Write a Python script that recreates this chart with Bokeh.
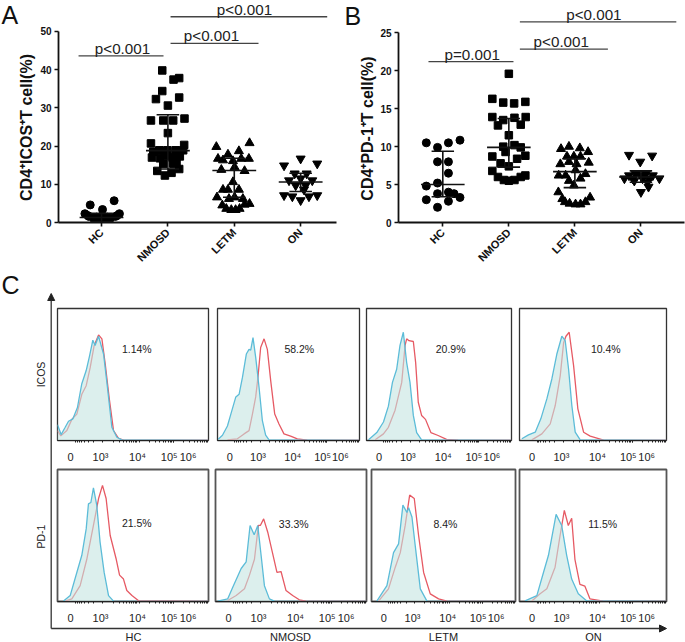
from math import pi
import numpy as np
from bokeh.embed import file_html
from bokeh.resources import INLINE
from bokeh.plotting import figure
from bokeh.models import Range1d, FixedTicker, Arrow, NormalHead
from bokeh.core.properties import value

FONT = "Liberation Sans"
groups = ["HC", "NMOSD", "LETM", "ON"]

# Panel A: per-group jitter (category units) and values (%)
a_hc_off = [-.17,.19,.015,-.25,.27,-.19,.21,-.115,.135,-.04,.045,0,-.075,.085,-.205,.235,0]
a_hc_val = [4.6,5.7,3.4,2.3,2.3,1.6,1.6,1.1,1.1,.8,.8,.5,1.4,1.4,1.8,1.8,1.6]
a_nm_off = [-.085,.085,.17,-.085,-.18,.17,0,-.255,-.07,.08,.25,0,-.255,.245,-.13,-.01,.115,.23,-.24,-.12,.07,.18,-.16,-.045,.055,.17,-.07,-.045,.08,.13,-.22,.12]
a_nm_val = [39.8,37.4,37.8,34.4,32.3,32.7,30.6,26.7,26.7,26.7,27.2,23.4,20.7,20.3,18.9,18.9,18.9,18.9,17,16.8,17,17.3,13.5,12.3,13,14,15.4,17.5,15.4,15.8,18.5,18.5]
a_le_off = [-.27,.23,.07,-.095,-.245,-.17,-.02,.105,.22,-.195,.005,.155,-.02,-.17,-.095,.07,-.26,.13,-.08,.005,-.18,.23,.155,-.12,-.045,.02,.08]
a_le_val = [19.8,20.8,18.7,17.8,16.7,16.3,16.1,16.7,16.7,13.8,14.5,13.5,10.6,8.6,8.6,8.6,6.6,6.2,6.2,6.6,4.5,4.9,4.7,3.6,3.3,3.3,3.6]
a_on_off = [-.25,0,.25,-.09,.09,-.175,0,.175,-.075,.075,.05,-.25,-.125,0,.125,.25]
a_on_val = [14.9,16.7,15.4,12.8,12.8,11,11.5,11,9.7,9.7,8.6,7.1,6.8,5.8,6.8,7.1]
a_mid = [1.3,18.8,13.6,10.6]
a_hi = [2.4,28.2,16.8,12.9]
a_lo = [.2,14,6.6,8.1]

# Panel B
b_hc_off = [-.25,.26,.085,-.08,-.08,.085,.085,-.25,-.08,-.08,-.25,.085,.17,.085,.26,-.08]
b_hc_val = [10.5,10.85,10.5,9.9,8,8,6.5,4.8,5.2,3.8,3,2.8,3.8,4,3.3,2]
b_nm_off = [0,-.25,-.085,.08,.25,-.25,-.085,.085,.255,-.165,.18,0,-.085,.085,-.25,.25,-.05,.125,-.125,0,-.25,.25,-.165,-.075,0,.085,.18,.18]
b_nm_val = [19.6,16.3,15.8,15.7,15.9,13.9,13.5,13.8,13.9,12.8,12.9,11.5,10,10.2,8.7,8.8,9.3,8.4,7.8,7.4,6.8,6.2,6,5.6,5.5,5.6,6,9.9]
b_le_off = [-.21,-.09,.075,.2,-.12,-.015,.085,-.22,-.09,.025,.21,-.245,-.14,.01,.16,-.09,.085,-.015,-.25,.23,-.19,-.15,-.08,.01,.085,.16]
b_le_val = [9.7,10,9.8,9.3,8.7,8.7,8.7,7.7,8,7.7,7.9,6.2,6.2,6.9,6.4,5.5,5.8,4.9,4,3.3,3.1,2.7,2.5,2.4,2.4,2.7]
b_on_off = [-.18,-.01,.17,-.08,.075,-.18,0,.18,-.25,-.125,.025,.125,.28,-.1,.1,0,.115]
b_on_val = [8.9,8,8.8,6.4,6.4,6.2,6.2,6.2,5.8,5.8,5.8,5.8,5.8,5.5,5.3,4,4.7]
b_mid = [5,9.9,6.7,6]
b_hi = [9.4,13.7,8.4,6.8]
b_lo = [3.4,7.3,4.6,5.3]

# Significance bars: x0, x1, y, text x, label
a_sig = [(.654,1.934,43.6,1.316,"p<0.001"),(2.04,3.365,46.9,2.657,"p<0.001"),(2.04,4.4,53.85,3.154,"p<0.001")]
b_sig = [(.783,2.07,21.2,1.445,"p=0.001"),(2.167,3.5,22.84,2.794,"p<0.001"),(2.167,4.536,26.45,3.288,"p<0.001")]

# Flow histograms: channel (per mille of the axis) and height (% of the frame), red then blue
h11_bx=[0,24,51,73,102,132,161,190,212,234,249,272,305,331,360,393,426,1000]
h11_by=[12,4.5,10,14.6,16.4,25,43,53,64,76,72,79,65.5,40,10,2.5,.5,0]
h11_rx=[0,22,62,95,128,161,190,216,243,272,294,316,342,371,404,437,1000]
h11_ry=[7.5,3.5,7.5,16,20,35,41.5,55,72,80,77,58,32.5,7.5,1.7,.3,0]
h12_bx=[5,35,70,94,129,152,176,203,222,234,250,269,293,316,339,363,1000]
h12_by=[1,4,11,20,33,35,48,65.5,69,68.5,78,63,40,15,4,.5,0]
h12_rx=[70,140,187,222,246,269,285,304,328,351,375,403,433,468,515,562,632,1000]
h12_ry=[.5,1.3,5,7.5,20,33,48,70.5,77,69,45,20,12.5,5,3.3,1.3,.3,0]
h13_bx=[14,71,117,151,179,208,231,254,277,300,323,346,380,1000]
h13_by=[.5,6,14,26,44,54,72,82,59,44,19,6,.5,0]
h13_rx=[60,117,151,197,243,266,277,293,323,339,357,380,407,444,494,552,632,1000]
h13_ry=[.5,5,10,23,44,72,77,75.6,75,59,29,19,16,6,3.8,.8,.2,0]
h14_bx=[16,61,107,145,186,220,254,288,311,334,356,379,413,1000]
h14_by=[1.3,4.3,6.3,16.4,31.5,46.6,65.5,79,75.6,54,26.5,6.3,.5,0]
h14_rx=[84,152,209,243,277,300,316,338,368,397,436,481,572,1000]
h14_ry=[.5,5,12.6,26.5,49,74,79,82,56.7,24,6.3,3.3,.3,0]
h21_bx=[40,84,128,161,190,205,221,238,260,282,309,338,371,1000]
h21_by=[.3,4.5,22,35,55,74,75,86,73,45,22,4.5,.3,0]
h21_rx=[51,95,150,194,238,272,298,322,349,389,411,437,459,493,537,1000]
h21_ry=[.3,2,12,32,57.6,78,88,78,50,32,20,17,8.3,4.5,.5,0]
h22_bx=[15,81,115,170,203,229,256,280,302,324,357,390,1000]
h22_by=[.3,2,11,25,30,57.6,50.5,57.6,35,12,2,.3,0]
h22_rx=[81,137,192,225,258,284,297,319,346,379,407,434,467,511,555,599,1000]
h22_ry=[.8,4.5,9.6,20,32,57.6,57.6,62.6,52.5,36,22,22.7,8.3,4.5,1.3,.3,0]
h23_bx=[37,107,153,188,218,246,258,281,304,339,385,1000]
h23_by=[.3,12,37,43.7,73,67.5,71,64,42,9.6,.3,0]
h23_rx=[49,118,165,200,234,265,297,327,362,408,466,524,1000]
h23_ry=[.3,9.6,26,37,57.6,80.6,78,50,22,5.8,2,.3,0]
h24_bx=[38,118,163,197,249,287,321,355,400,456,1000]
h24_by=[.5,4.5,22,35,66,57.6,35,17,5.8,.5,0]
h24_rx=[84,140,186,242,276,305,332,355,377,411,445,479,570,1000]
h24_ry=[.3,5.8,9.6,26,50,69,57.6,63,32,13,11.6,2,.3,0]

pct_labels = ["1.14%","58.2%","20.9%","10.4%","21.5%","33.3%","8.4%","11.5%"]
pct_x = [525,576,580,587,525,518,513,566]
pct_y = [69,69,69,69,59.6,59,59,59]
row_labels = ["ICOS","PD-1"]
flow_ticks = [86,285,530,740,865]
flow_tick_labels = ["0","10³","10⁴","10⁵","10⁶"]


def place(x, y):
    return {"position": "absolute", "left": f"{x}px", "top": f"{y}px"}


def make_scatter(left, width, height, ml, mr, xr, y_end, y_top, ticks, series, mid, hi, lo, sig):
    p = figure(width=width, height=height, toolbar_location=None, output_backend="svg",
               x_range=Range1d(*xr), y_range=Range1d(0, y_end),
               min_border_left=ml, min_border_right=mr, min_border_top=0, min_border_bottom=48,
               background_fill_color=None, border_fill_color=None, outline_line_color=None,
               styles=place(left, 0))
    p.grid.visible = False
    for ax in (p.xaxis[0], p.yaxis[0]):
        ax.axis_line_width = 1.8
        ax.axis_line_color = "#111111"
        ax.major_tick_line_width = 1.6
        ax.major_tick_line_color = "#111111"
        ax.major_tick_in = 0
        ax.major_tick_out = 4
        ax.minor_tick_line_color = None
        ax.major_label_text_font = FONT
        ax.major_label_text_font_style = "bold"
        ax.major_label_text_font_size = "10px"
        ax.major_label_text_color = "#111111"
    p.yaxis[0].ticker = FixedTicker(ticks=ticks)
    p.yaxis[0].bounds = (0, y_top)
    p.yaxis[0].major_label_standoff = 3
    p.xaxis[0].ticker = FixedTicker(ticks=[1, 2, 3, 4])
    p.xaxis[0].major_label_overrides = {i + 1: g for i, g in enumerate(groups)}
    p.xaxis[0].major_label_orientation = pi / 4
    p.xaxis[0].major_label_standoff = 4
    p.xaxis[0].major_label_text_font_size = "11px"
    for i, (off, val, marker, size) in enumerate(series):
        p.scatter([i + 1 + o for o in off], val, marker=marker, size=size, color="#000000")
    xs = [i + 1 for i in range(4)]
    p.segment(xs, lo, xs, hi, line_color="#111111", line_width=1.6)
    for ys, hw in ((mid, .33), (hi, .17), (lo, .17)):
        p.segment([x - hw for x in xs], ys, [x + hw for x in xs], ys, line_color="#111111", line_width=1.6)
    for x0, x1, y, tx, label in sig:
        p.segment([x0], [y], [x1], [y], line_color="#444444", line_width=1.3)
        p.text([tx], [y], text=[label], text_font=value(FONT), text_font_size="15.2px",
               text_align="center", text_baseline="middle", y_offset=-7.5, text_color="#222222")
    return p


fig_a = make_scatter(0, 342, 270, 58, 6, (.352, 4.54), 58.1, 50, [0,10,20,30,40,50],
                     [(a_hc_off,a_hc_val,"circle",8),(a_nm_off,a_nm_val,"square",7.5),
                      (a_le_off,a_le_val,"triangle",9),(a_on_off,a_on_val,"inverted_triangle",9)],
                     a_mid, a_hi, a_lo, a_sig)
fig_b = make_scatter(342, 343, 270, 56, 1, (.329, 4.66), 29.26, 25, [0,5,10,15,20,25],
                     [(b_hc_off,b_hc_val,"circle",8),(b_nm_off,b_nm_val,"square",7.5),
                      (b_le_off,b_le_val,"triangle",9),(b_on_off,b_on_val,"inverted_triangle",9)],
                     b_mid, b_hi, b_lo, b_sig)

decades = [300, 543, 770]
minor = [d + 225 * np.log10(k) for d in decades for k in range(1, 11)]
minor += [300 - 200 * np.log10(k) for k in range(2, 9)]


def make_flow(l, t, r, b, rx, ry, bx, by, label, lx, ly, border_w, border_c):
    pad = 3
    p = figure(width=int(r - l + 2 * pad), height=int(b - t + pad + 26), toolbar_location=None,
               output_backend="svg", x_range=Range1d(0, 1000), y_range=Range1d(0, 100),
               y_axis_type=None,
               min_border_left=pad, min_border_right=pad, min_border_top=pad, min_border_bottom=26,
               background_fill_color=None, border_fill_color=None,
               outline_line_color=border_c, outline_line_width=border_w,
               styles=place(l - pad, t - pad))
    p.grid.visible = False
    ax = p.xaxis[0]
    ax.ticker = FixedTicker(ticks=flow_ticks, minor_ticks=[m for m in minor if 0 <= m <= 1000])
    ax.major_label_overrides = {t_: s for t_, s in zip(flow_ticks, flow_tick_labels)}
    ax.major_tick_line_color = None
    ax.major_tick_in = 0
    ax.major_tick_out = 0
    ax.minor_tick_in = 0
    ax.minor_tick_out = 2
    ax.minor_tick_line_color = "#222222"
    ax.axis_line_color = "#222222"
    ax.axis_line_width = 1.2
    ax.major_label_standoff = 8
    ax.major_label_text_font = FONT
    ax.major_label_text_font_size = "11px"
    ax.major_label_text_color = "#222222"
    p.line(rx, ry, line_color="#e65a64", line_width=1.3)
    p.varea(bx, [0] * len(bx), by, fill_color="#c4e4e1", fill_alpha=0.6)
    p.line(bx, by, line_color="#5cbcd8", line_width=1.3)
    p.text([lx], [ly], text=[label], text_font=value(FONT), text_font_size="10.5px",
           text_align="center", text_baseline="middle", text_color="#222222")
    return p


top_boxes = [(57,208.5),(216.5,359),(366,511.5),(519,666.5)]
bot_boxes = [(57,208.5),(214.5,365.5),(371,515),(519,666.5)]
top_series = [(h11_rx,h11_ry,h11_bx,h11_by),(h12_rx,h12_ry,h12_bx,h12_by),(h13_rx,h13_ry,h13_bx,h13_by),(h14_rx,h14_ry,h14_bx,h14_by)]
bot_series = [(h21_rx,h21_ry,h21_bx,h21_by),(h22_rx,h22_ry,h22_bx,h22_by),(h23_rx,h23_ry,h23_bx,h23_by),(h24_rx,h24_ry,h24_bx,h24_by)]
flows = []
for i in range(4):
    flows.append(make_flow(top_boxes[i][0], 308, top_boxes[i][1], 440, *top_series[i],
                           pct_labels[i], pct_x[i], pct_y[i], 1.3, "#333333"))
for i in range(4):
    flows.append(make_flow(bot_boxes[i][0], 469, bot_boxes[i][1], 601, *bot_series[i],
                           pct_labels[i + 4], pct_x[i + 4], pct_y[i + 4], 1.8, "#555555"))

# Page-level annotation layer, in page pixels
bg = figure(width=685, height=642, toolbar_location=None, output_backend="svg",
            x_range=Range1d(0, 685), y_range=Range1d(642, 0),
            x_axis_type=None, y_axis_type=None,
            min_border=0, background_fill_color=None, border_fill_color=None,
            outline_line_color=None, styles=place(0, 0))
bg.grid.visible = False


def txt(x, y, s, size, angle=0, style="normal", align="center", base="middle", color="#222222"):
    bg.text([x], [y], text=[s], text_font=value(FONT), text_font_size=size, angle=angle,
            text_font_style=style, text_align=align, text_baseline=base, text_color=color)


txt(1, 14.5, "A", "25px", align="left", color="#111111")
txt(344, 15, "B", "25px", align="left", color="#111111")
txt(1, 284, "C", "25px", align="left", color="#111111")
txt(25.5, 127, "CD4⁺ICOS⁺T cell(%)", "16px", angle=pi/2, style="bold", color="#111111")
txt(367, 128, "CD4⁺PD-1⁺T cell(%)", "16px", angle=pi/2, style="bold", color="#111111")
txt(40, 374, row_labels[0], "10.5px", angle=pi/2)
txt(40, 536, row_labels[1], "10.5px", angle=pi/2)
for x, g in zip([133, 290, 443, 593], groups):
    txt(x, 636, g, "11px")
bg.add_layout(Arrow(end=NormalHead(size=7, fill_color="#222222", line_color="#222222"),
                    x_start=50.7, y_start=628, x_end=50.7, y_end=293, line_color="#333333", line_width=1.3))
bg.add_layout(Arrow(end=NormalHead(size=7, fill_color="#222222", line_color="#222222"),
                    x_start=50.7, y_start=628, x_end=666, y_end=628, line_color="#333333", line_width=1.3))

open("out.html", "w").write(file_html([bg, fig_a, fig_b, *flows], INLINE))
